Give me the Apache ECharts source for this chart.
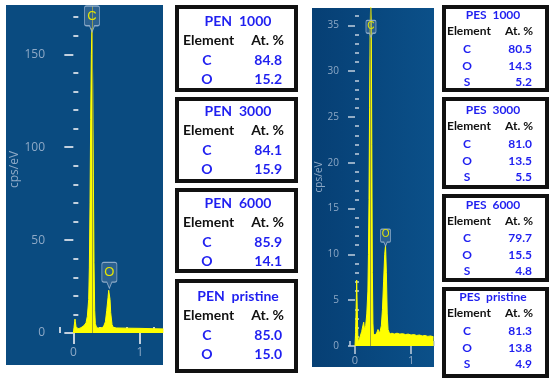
<!DOCTYPE html>
<html>
<head>
<meta charset="utf-8">
<script src="https://cdn.jsdelivr.net/npm/echarts@6.0.0/dist/echarts.min.js"></script>
<style>
    html,body{margin:0;padding:0;background:#fff;}
    #chart{width:550px;height:384px;}
</style>
</head>
<body>
<div id="chart"></div>
<script>
{
    /*EDX spectra - [keV, cps/eV]*/
    const penSpectrum = [
        [0,0],[0.01,3],[0.02,6],[0.025,7.5],[0.03,6],[0.04,3.5],[0.05,2.5],[0.07,2.3],[0.10,2.6],[0.13,3.2],
        [0.16,4],[0.19,5.5],[0.21,9],[0.23,18],[0.24,35],[0.25,70],[0.26,115],[0.27,150],[0.28,164],[0.29,135],
        [0.30,85],[0.31,38],[0.32,12],[0.33,5],[0.35,2.8],[0.40,2.6],[0.45,3.2],[0.48,6],[0.50,12],[0.52,19],
        [0.53,23],[0.54,23.5],[0.55,18],[0.56,11],[0.58,4.5],[0.60,3],[0.65,2.7],[0.80,2.6],[1.00,2.5],[1.20,2.3],
        [1.35,2.2]
    ];
    const pesSpectrum = [
        [0,0],[0.01,1.5],[0.02,4],[0.03,7.2],[0.04,4],[0.05,1.2],[0.06,0.4],[0.08,0.8],[0.10,1.2],[0.12,1.6],
        [0.14,2.2],[0.155,2.6],[0.17,1.8],[0.19,2.2],[0.21,3.5],[0.23,6],[0.24,10],[0.25,16],[0.26,26],[0.27,34],
        [0.28,38],[0.29,35],[0.30,22],[0.31,8],[0.32,2.5],[0.33,1.2],[0.35,1.0],[0.38,1.3],[0.41,1.8],[0.44,1.4],
        [0.47,2.2],[0.49,4],[0.51,7],[0.53,10],[0.545,11],[0.56,8],[0.575,3.5],[0.59,1.8],[0.62,1.3],[0.66,1.4],
        [0.70,1.3],[0.75,1.4],[0.80,1.3],[0.85,1.35],[0.90,1.25],[0.95,1.3],[1.00,1.2],[1.05,1.25],[1.10,1.15],[1.15,1.2],
        [1.20,1.1],[1.25,1.15],[1.30,1.05],[1.35,1.1],[1.40,1.0]
    ];

    /*element markers [name, keV, cps]*/
    const penMarks = [['C',0.28,162],['O',0.54,24]];
    const pesMarks = [['C',0.285,33.7],['O',0.545,10.9]];

    /*tick values*/
    const penXMajor = [0,1];
    const penXMinor = [-0.2,0.2,0.4,0.6,0.8,1.2];
    const penYMajor = [0,50,100,150];
    const penYMinor = [10,20,30,40,60,70,80,90,110,120,130,140,160,170];
    const pesXMajor = [0,1];
    const pesXMinor = [-0.1,0.1,0.2,0.3,0.4,0.5,0.6,0.7,0.8,0.9,1.1,1.2,1.3,1.4];
    const pesYMajor = [0,5,10,15,20,25,30,35];
    const pesYMinor = [1,2,3,4,6,7,8,9,11,12,13,14,16,17,18,19,21,22,23,24,26,27,28,29,31,32,33,34,36];

    /*composition tables (At. %)*/
    const penTitles = ['PEN  1000','PEN  3000','PEN  6000','PEN  pristine'];
    const penC = ['84.8','84.1','85.9','85.0'];
    const penO = ['15.2','15.9','14.1','15.0'];
    const pesTitles = ['PES  1000','PES  3000','PES  6000','PES  pristine'];
    const pesC = ['80.5','81.0','79.7','81.3'];
    const pesO = ['14.3','13.5','15.5','13.8'];
    const pesS = ['5.2','5.5','4.8','4.9'];

    const chart = echarts.init(document.getElementById('chart'), null, {renderer:'canvas'});

    const blue = '#1f1ff0';
    const tickColor = '#c2d0de';
    const labelColor = '#8ea9c6';
    const markPath = 'path://M2,0 H13 Q15,0 15,2 V17 Q15,19 13,19 H10 L7.5,25 L5,19 H2 Q0,19 0,17 V2 Q0,0 2,0 Z';

    /*panels + tables*/
    const graphics = [
        {type:'rect', z:-10, shape:{x:6,y:5,width:157,height:360}, style:{fill:'#0a4b80'}},
        {type:'rect', z:-10, shape:{x:312,y:8,width:122,height:359},
            style:{fill:new echarts.graphic.LinearGradient(0,0,1,0,[{offset:0,color:'#063f74'},{offset:1,color:'#0b5089'}])}}
    ];
    const penTop = [7,99,190,281], penH = [83,82,81,90], penTitleY = [21,111,203,296];
    penTitles.forEach((t,i) => {
        const y = penTitleY[i], step = 19.5;
        graphics.push({type:'rect', shape:{x:177,y:penTop[i],width:119,height:penH[i]}, style:{fill:'#fff',stroke:'#111',lineWidth:4}});
        const rows = [
            [t, 238, y, 'center', blue],
            ['Element', 183, y+step, 'left', '#111'],
            ['At. %', 284, y+step, 'right', '#111'],
            ['C', 207, y+step*2, 'center', blue],
            [penC[i], 282, y+step*2, 'right', blue],
            ['O', 207, y+step*3, 'center', blue],
            [penO[i], 282, y+step*3, 'right', blue]
        ];
        rows.forEach(r => graphics.push({type:'text', z:10, style:{
            text:r[0], x:r[1], y:r[2], textAlign:r[3], textVerticalAlign:'middle',
            font:'bold 14px Lato', fill:r[4]}}));
    });
    const pesTop = [7,99,196,289], pesH = [83,88,84,87], pesTitleY = [15.5,110.5,205,297.5];
    const pesRowDy = [0,16,33.5,50.5,66.5];
    pesTitles.forEach((t,i) => {
        const y = pesTitleY[i];
        graphics.push({type:'rect', shape:{x:444,y:pesTop[i],width:103,height:pesH[i]}, style:{fill:'#fff',stroke:'#111',lineWidth:4}});
        const rows = [
            [t, 493, y+pesRowDy[0], 'center', blue],
            ['Element', 447, y+pesRowDy[1], 'left', '#111'],
            ['At. %', 533, y+pesRowDy[1], 'right', '#111'],
            ['C', 467, y+pesRowDy[2], 'center', blue],
            [pesC[i], 532, y+pesRowDy[2], 'right', blue],
            ['O', 467, y+pesRowDy[3], 'center', blue],
            [pesO[i], 532, y+pesRowDy[3], 'right', blue],
            ['S', 467, y+pesRowDy[4], 'center', blue],
            [pesS[i], 532, y+pesRowDy[4], 'right', blue]
        ];
        rows.forEach(r => graphics.push({type:'text', z:10, style:{
            text:r[0], x:r[1], y:r[2], textAlign:r[3], textVerticalAlign:'middle',
            font:'bold 12px Lato', fill:r[4]}}));
    });

    function xAxis(grid, min, max, major, minor, majorLen, minorLen, fontSize, margin, w){
        return [
            {type:'value', gridIndex:grid, min, max, axisLine:{show:false}, splitLine:{show:false},
                axisTick:{customValues:major, length:majorLen, lineStyle:{color:tickColor,width:w}},
                axisLabel:{customValues:major, color:labelColor, fontSize, margin, fontFamily:'Open Sans'}},
            {type:'value', gridIndex:grid, min, max, axisLine:{show:false}, splitLine:{show:false},
                axisTick:{customValues:minor, length:minorLen, lineStyle:{color:tickColor,width:w}},
                axisLabel:{show:false}}
        ];
    }
    function yAxis(grid, max, major, minor, majorLen, minorLen, fontSize, margin, offset, nameGap, w){
        return [
            {type:'value', gridIndex:grid, min:0, max, offset, axisLine:{show:false}, splitLine:{show:false},
                name:'cps/eV', nameLocation:'middle', nameGap,
                nameTextStyle:{color:labelColor, fontSize, fontFamily:'Open Sans'},
                axisTick:{customValues:major, length:majorLen, lineStyle:{color:tickColor,width:w}},
                axisLabel:{customValues:major, color:labelColor, fontSize, margin, fontFamily:'Open Sans'}},
            {type:'value', gridIndex:grid, min:0, max, offset, axisLine:{show:false}, splitLine:{show:false},
                axisTick:{customValues:minor, length:minorLen, lineStyle:{color:tickColor,width:w}},
                axisLabel:{show:false}}
        ];
    }
    function spectrum(data, axis, marks, size){
        return {
            type:'line', xAxisIndex:axis, yAxisIndex:axis, data, showSymbol:false, animation:false,
            lineStyle:{color:'#ffff00', width:1}, areaStyle:{color:'#ffff00', opacity:1},
            markLine:{silent:true, symbol:'none', animation:false, label:{show:false},
                lineStyle:{color:'#9da42c', width:1, type:'solid'},
                data:[{xAxis:marks[0][1]}]},
            markPoint:{animation:false, symbol:markPath, symbolSize:size, symbolOffset:[0,'-50%'],
                itemStyle:{color:'rgba(110,140,175,0.35)', borderColor:'rgba(160,185,210,0.85)', borderWidth:1},
                label:{show:true, color:'#e6e600', fontSize:size[0] > 12 ? 13 : 10, offset:[0,-3],
                    formatter:p => p.name},
                data:marks.map(m => ({name:m[0], coord:[m[1], m[2]]}))}
        };
    }

    const option = {
        animation:false,
        graphic:{elements:graphics},
        grid:[
            {left:60, right:386.6, top:6, bottom:51},
            {left:349.4, right:116, top:8, bottom:38}
        ],
        xAxis:[
            ...xAxis(0, -0.2, 1.35, penXMajor, penXMinor, 11, 6, 12, 14, 2),
            ...xAxis(1, -0.1, 1.41, pesXMajor, pesXMinor, 8, 5, 11, 9, 1.5)
        ],
        yAxis:[
            ...yAxis(0, 176, penYMajor, penYMinor, 9, 5, 12, 13, 2, 36, 2),
            ...yAxis(1, 36.9, pesYMajor, pesYMinor, 7, 4, 10, 9, 1.4, 24, 1.5)
        ],
        series:[
            spectrum(penSpectrum, 0, penMarks, [15,26]),
            spectrum(pesSpectrum, 2, pesMarks, [10,17])
        ]
    };

    chart.setOption(option);
}
</script>
</body>
</html>
